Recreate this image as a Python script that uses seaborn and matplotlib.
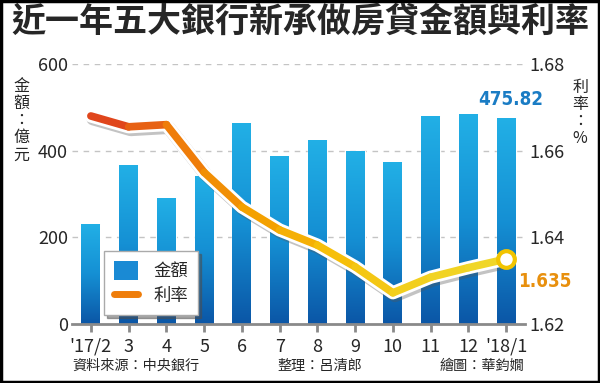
import numpy as np
import seaborn as sns
import matplotlib.pyplot as plt
import matplotlib.patheffects as pe
from matplotlib.patches import Patch, Rectangle
from matplotlib.lines import Line2D
from matplotlib.colors import LinearSegmentedColormap
import pandas as pd

months = ["'17/2", "3", "4", "5", "6", "7", "8", "9", "10", "11", "12", "'18/1"]
amount = [231, 367, 291, 342, 464, 388, 425, 399, 374, 480, 485, 475.82]
rate = [1.668, 1.6655, 1.666, 1.655, 1.647, 1.6417, 1.6382, 1.6332, 1.6272, 1.6308, 1.633, 1.635]

sns.set_theme(style="white")
plt.rcParams['font.family'] = ['Noto Sans CJK TC', 'DejaVu Sans']

df = pd.DataFrame({"month": months, "amount": amount, "rate": rate})

fig = plt.figure(figsize=(6, 3.83), dpi=100)
ax = fig.add_axes([0.12, 0.154, 0.755, 0.679])

sns.barplot(data=df, x="month", y="amount", ax=ax, color="#1a8ad4", width=0.5,
            saturation=1, zorder=2)

# vertical gradient on the bars
bar_cmap = LinearSegmentedColormap.from_list("bars", ["#0b56a6", "#1590d4", "#22b0e6"])
grad = np.linspace(0, 1, 256).reshape(-1, 1)
for p in ax.patches:
    x0, y0 = p.get_x(), p.get_y()
    w, h = p.get_width(), p.get_height()
    im = ax.imshow(grad, cmap=bar_cmap, origin="lower", aspect="auto",
                   extent=[x0, x0 + w, y0, y0 + h], zorder=2.5)
    im.set_clip_path(p)

ax.set_xlim(-0.5, len(months) - 0.5)
ax.set_ylim(0, 600)
ax.set_yticks([0, 200, 400, 600])
for v in [200, 400, 600]:
    ax.axhline(v, color="#c4c4c4", lw=1, ls=(0, (4, 4)), zorder=1)
ax.set_xlabel("")
ax.set_ylabel("")
for s in ["top", "left", "right"]:
    ax.spines[s].set_visible(False)
ax.spines["bottom"].set_color("#8a8a8a")
ax.spines["bottom"].set_linewidth(2)
ax.spines["bottom"].set_zorder(5)
ax.tick_params(axis="x", length=6, width=2, color="#8a8a8a", direction="out",
               labelsize=13, pad=4, bottom=True)
ax.tick_params(axis="y", length=0, labelsize=13, pad=3)

ax2 = ax.twinx()
ax2.set_ylim(1.62, 1.68)
ax2.set_yticks([1.62, 1.64, 1.66, 1.68])
ax2.set_yticklabels([f"{v:.2f}" for v in [1.62, 1.64, 1.66, 1.68]])
ax2.tick_params(axis="y", length=0, labelsize=13, pad=3)
for s in ax2.spines.values():
    s.set_visible(False)

xs = np.arange(len(months))
# white halo + shadow under the rate line
sns.lineplot(x=xs, y=rate, ax=ax2, color="white", lw=9.5, zorder=3,
             path_effects=[pe.SimpleLineShadow(offset=(1.5, -2), shadow_color="#555555", alpha=0.35),
                           pe.Normal()])
line_cmap = LinearSegmentedColormap.from_list(
    "rate", ["#e0461c", "#ef7d0a", "#f4a100", "#f6bf0a", "#f2cf1e", "#f0d628"])
for i in range(len(xs) - 1):
    c = line_cmap(i / (len(xs) - 2))
    ax2.plot(xs[i:i + 2], rate[i:i + 2], color=c, lw=5.5, zorder=4,
             solid_capstyle="round", solid_joinstyle="round")
ax2.plot(xs[-1], rate[-1], "o", ms=12, mfc="white", mec="#f2c400", mew=3, zorder=6)

ax.annotate(f"{amount[-1]:.2f}", (xs[-1], amount[-1]), xytext=(3, 6),
            textcoords="offset points", ha="center", va="bottom",
            color="#1a7cc4", fontsize=13.5, fontweight="bold",
            family="DejaVu Sans", fontstretch="condensed")
ax2.annotate(f"{rate[-1]:.3f}", (xs[-1], rate[-1]), xytext=(28, -16),
             textcoords="offset points", ha="center", va="center",
             color="#e8900e", fontsize=13.5, fontweight="bold",
             family="DejaVu Sans", fontstretch="condensed")

handles = [Patch(facecolor="#1a8ad4", edgecolor="none"),
           Line2D([0], [0], color="#ef7d0a", lw=5, solid_capstyle="round")]
leg = ax2.legend(handles, ["金額", "利率"], loc="lower left",
                 bbox_to_anchor=(0.06, 0.015), fontsize=12.5, frameon=True,
                 fancybox=False, shadow=True, handlelength=1.4, handleheight=1.3,
                 borderpad=0.55, labelspacing=0.35, handletextpad=0.9,
                 borderaxespad=0.3)
leg.get_frame().set_edgecolor("#aaaaaa")
leg.get_frame().set_linewidth(1)
leg.set_zorder(10)

fig.text(0.5, 0.945, "近一年五大銀行新承做房貸金額與利率", ha="center", va="center",
         fontsize=24.5, fontweight="black")
fig.text(0.035, 0.685, "金\n額\n：\n億\n元", ha="center", va="center",
         fontsize=11.5, linespacing=1.02)
fig.text(0.967, 0.705, "利\n率\n：\n%", ha="center", va="center",
         fontsize=11.5, linespacing=1.02)

fig.text(0.12, 0.045, "資料來源：中央銀行", ha="left", va="center", fontsize=10.2)
fig.text(0.463, 0.045, "整理：呂清郎", ha="left", va="center", fontsize=10.2)
fig.text(0.733, 0.045, "繪圖：華鈞嫺", ha="left", va="center", fontsize=10.2)

fig.patches.append(Rectangle((0.002, 0.003), 0.996, 0.994, transform=fig.transFigure,
                             fill=False, edgecolor="black", lw=2.5))

fig.savefig("out.png", dpi=100)
